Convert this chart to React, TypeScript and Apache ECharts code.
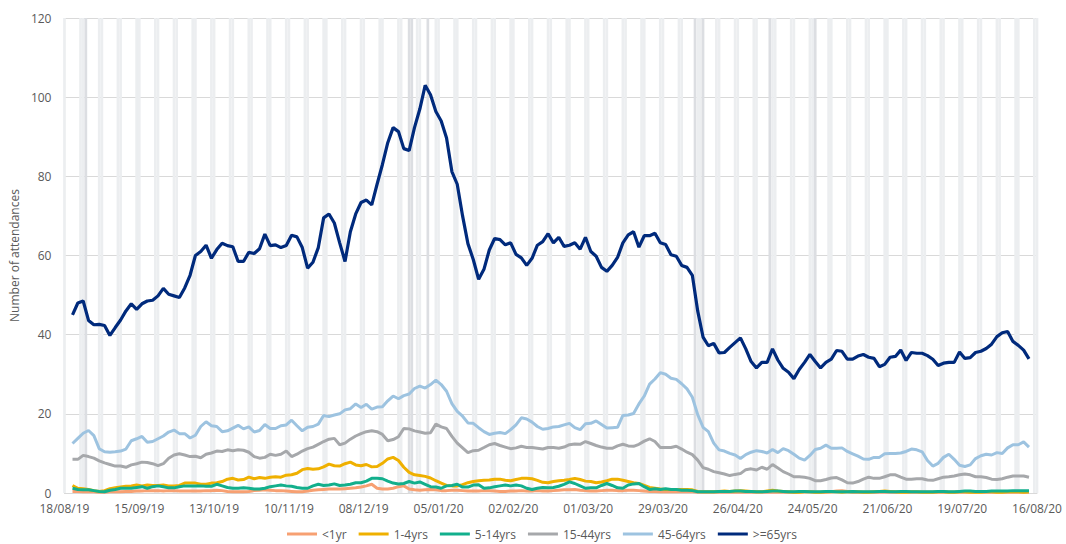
import React, { useEffect, useRef } from "react";
import * as echarts from "echarts";

// ---- Data ----
// Daily categories from 18/08/19 to 16/08/20 (x axis)
const FIRST_DAY = { y: 2019, m: 7, d: 18 };
const DAY_COUNT = 365;
// Values are read every 2 days, starting on the 4th day (21/08/19)
const SAMPLE_START = 3;
const SAMPLE_STEP = 2;

const BANK_HOLIDAYS = ["26/08/19", "25/12/19", "26/12/19", "01/01/20", "10/04/20", "13/04/20", "08/05/20", "25/05/20"];

const SERIES_NAMES = ["<1yr", "1-4yrs", "5-14yrs", "15-44yrs", "45-64yrs", ">=65yrs"];

const under1 = [
  0.4, 0.4, 0.3, 0.3, 0.3, 0.2, 0.2, 0.3, 0.3, 0.3,
  0.4, 0.4, 0.5, 0.5, 0.6, 0.6, 0.6, 0.5, 0.6, 0.6,
  0.5, 0.5, 0.5, 0.5, 0.5, 0.6, 0.6, 0.7, 0.6, 0.4,
  0.3, 0.3, 0.3, 0.4, 0.6, 0.7, 0.8, 0.7, 0.6, 0.6,
  0.5, 0.4, 0.3, 0.3, 0.5, 0.7, 0.8, 0.9, 1, 1,
  1, 1.1, 1.2, 1.3, 1.5, 1.8, 2.2, 1.2, 1, 1,
  1.2, 1.6, 1.8, 1, 0.8, 0.7, 0.8, 0.9, 0.8, 0.6,
  0.6, 0.7, 0.7, 0.6, 0.5, 0.5, 0.5, 0.6, 0.6, 0.5,
  0.4, 0.4, 0.5, 0.5, 0.6, 0.5, 0.5, 0.6, 0.5, 0.5,
  0.6, 0.7, 0.8, 0.8, 0.9, 0.7, 0.6, 0.5, 0.5, 0.6,
  0.7, 0.7, 0.6, 0.6, 0.7, 0.7, 0.6, 0.5, 0.4, 0.4,
  0.3, 0.3, 0.3, 0.3, 0.3, 0.3, 0.3, 0.2, 0.2, 0.2,
  0.2, 0.2, 0.2, 0.2, 0.2, 0.2, 0.2, 0.2, 0.2, 0.2,
  0.2, 0.2, 0.2, 0.2, 0.2, 0.2, 0.2, 0.3, 0.3, 0.2,
  0.2, 0.2, 0.3, 0.5, 0.6, 0.4, 0.2, 0.2, 0.2, 0.2,
  0.2, 0.2, 0.2, 0.2, 0.2, 0.2, 0.2, 0.2, 0.2, 0.2,
  0.2, 0.2, 0.2, 0.2, 0.2, 0.2, 0.2, 0.2, 0.2, 0.2,
  0.2, 0.2, 0.2, 0.2, 0.2, 0.2, 0.2, 0.2, 0.2, 0.2,
];

const age1to4 = [
  1.9, 1.2, 1.1, 0.9, 0.6, 0.4, 0.6, 1.1, 1.3, 1.5,
  1.7, 1.8, 2, 1.8, 2, 1.9, 1.9, 2, 1.8, 1.8,
  1.9, 2.5, 2.5, 2.5, 2.2, 2.2, 2.5, 2.6, 2.9, 3.5,
  3.7, 3.3, 3.4, 4, 3.6, 3.9, 3.7, 4, 4.1, 4,
  4.5, 4.6, 5, 5.9, 6.2, 6, 6.1, 6.6, 7.3, 6.9,
  6.8, 7.4, 7.8, 7.1, 6.9, 7.2, 6.6, 6.7, 7.5, 8.6,
  9, 8.2, 6.5, 5.2, 4.6, 4.4, 4.2, 3.8, 3.1, 2.5,
  1.9, 1.8, 1.8, 2.1, 2.6, 2.9, 3.1, 3.2, 3.3, 3.5,
  3.5, 3.2, 3.1, 3.4, 3.7, 3.7, 3.6, 3.2, 2.7, 2.6,
  2.9, 3.1, 3.2, 3.4, 3.7, 3.4, 3.0, 2.9, 2.6, 2.8,
  3.1, 3.5, 3.5, 3.2, 2.9, 2.6, 2.4, 1.9, 1.4, 1.2,
  1, 0.9, 0.9, 0.9, 0.9, 0.9, 0.8, 0.4, 0.3, 0.3,
  0.3, 0.4, 0.5, 0.4, 0.5, 0.6, 0.5, 0.4, 0.3, 0.3,
  0.5, 0.7, 0.5, 0.4, 0.3, 0.2, 0.2, 0.3, 0.3, 0.2,
  0.2, 0.3, 0.4, 0.3, 0.2, 0.3, 0.4, 0.3, 0.2, 0.2,
  0.3, 0.4, 0.5, 0.4, 0.3, 0.2, 0.2, 0.3, 0.3, 0.2,
  0.2, 0.2, 0.3, 0.3, 0.2, 0.2, 0.3, 0.3, 0.2, 0.2,
  0.2, 0.3, 0.3, 0.2, 0.2, 0.3, 0.3, 0.3, 0.2, 0.3,
];

const age5to14 = [
  1.2, 0.9, 0.8, 0.8, 0.6, 0.4, 0.3, 0.7, 0.9, 1.2,
  1.2, 1.2, 1.4, 1.6, 1.2, 1.6, 1.8, 1.6, 1.3, 1.3,
  1.6, 1.8, 1.8, 1.8, 1.8, 1.7, 1.7, 2.2, 1.8, 1.4,
  1.2, 1.2, 1.3, 1.2, 1, 1, 1.2, 1.6, 1.8, 2,
  1.8, 1.7, 1.4, 1.2, 1.2, 1.8, 2.2, 1.9, 2, 2.3,
  1.9, 2, 2.2, 2.6, 2.6, 3, 3.7, 3.7, 3.6, 3,
  2.5, 2.3, 2.4, 2.9, 2.5, 2.8, 2.2, 1.6, 1.5, 1.2,
  1.8, 1.9, 2.2, 1.5, 1.5, 2, 2.1, 1.2, 1.3, 1.6,
  1.8, 2, 1.8, 2, 1.8, 1.2, 0.9, 1.2, 1.4, 1.3,
  1.4, 1.7, 2.2, 2.8, 2.4, 1.8, 1.2, 1.3, 1.3, 1.9,
  2.4, 1.9, 1.3, 1.2, 2, 2.3, 2.4, 1.6, 0.9, 1.1,
  0.9, 1.1, 0.9, 0.9, 0.7, 0.7, 0.6, 0.3, 0.3, 0.3,
  0.3, 0.4, 0.4, 0.4, 0.5, 0.5, 0.4, 0.4, 0.3, 0.3,
  0.4, 0.5, 0.5, 0.4, 0.3, 0.3, 0.4, 0.4, 0.3, 0.3,
  0.3, 0.4, 0.4, 0.3, 0.3, 0.3, 0.4, 0.3, 0.3, 0.3,
  0.3, 0.4, 0.4, 0.3, 0.3, 0.4, 0.4, 0.3, 0.3, 0.3,
  0.3, 0.3, 0.4, 0.4, 0.3, 0.3, 0.4, 0.5, 0.5, 0.4,
  0.4, 0.4, 0.5, 0.5, 0.5, 0.5, 0.6, 0.6, 0.6, 0.6,
];

const age15to44 = [
  8.5, 8.5, 9.5, 9.2, 8.8, 8.1, 7.6, 7.2, 6.8, 6.8,
  6.5, 7.1, 7.4, 7.8, 7.7, 7.4, 6.9, 7.4, 8.8, 9.6,
  9.9, 9.6, 9.2, 9.3, 8.9, 9.8, 10.1, 10.6, 10.5, 10.9,
  10.7, 10.9, 10.8, 10.3, 9.2, 8.8, 9, 9.8, 9.5, 9.8,
  10.6, 9.2, 9.8, 10.6, 11.2, 11.6, 12.3, 13, 13.6, 13.8,
  12.2, 12.6, 13.6, 14.4, 15, 15.5, 15.7, 15.5, 14.8, 13.2,
  13.5, 14.2, 16.3, 16.2, 15.7, 15.4, 15.1, 15.2, 17.4, 16.7,
  16.3, 14.3, 12.6, 11.4, 10.2, 10.7, 10.8, 11.5, 12.2, 12.5,
  12, 11.6, 11.2, 11.4, 11.8, 11.5, 11.5, 11.3, 11.1, 11.5,
  11.5, 11.3, 11.6, 12.2, 12.4, 12.3, 13, 12.5, 12, 11.6,
  11.3, 11.3, 11.9, 12.3, 11.9, 11.8, 12.3, 13.1, 13.7, 13,
  11.5, 11.5, 11.5, 11.8, 11.1, 10.3, 9.7, 8.3, 6.4, 6,
  5.4, 5.1, 4.8, 4.4, 4.7, 4.9, 5.9, 6.1, 5.8, 6.5,
  6, 7.2, 6.3, 5.4, 4.8, 4.1, 4.1, 4, 3.7, 3.1,
  3.1, 3.4, 3.8, 3.9, 3.3, 2.6, 2.5, 2.9, 3.5, 4,
  3.7, 3.7, 4.1, 4.6, 4.6, 4, 3.5, 3.5, 3.6, 3.6,
  3.3, 3.2, 3.6, 4, 4.1, 4.3, 4.6, 4.8, 4.6, 4.1,
  4.1, 3.9, 3.5, 3.4, 3.6, 4, 4.3, 4.3, 4.3, 4,
];

const age45to64 = [
  12.5, 13.8, 15.1, 15.8, 14.5, 11.2, 10.4, 10.3, 10.4, 10.6,
  11.1, 13.2, 13.7, 14.3, 12.8, 13, 13.7, 14.4, 15.4, 15.9,
  15, 15, 13.9, 14.6, 16.8, 18, 17, 16.8, 15.5, 15.7,
  16.4, 17.1, 16.2, 16.7, 15.4, 15.8, 17.3, 16.3, 16.3, 17,
  17.2, 18.4, 17, 15.7, 16.6, 16.8, 17.4, 19.6, 19.3, 19.7,
  20, 21, 21.3, 22.5, 21.6, 22.4, 21.2, 21.7, 21.8, 23.3,
  24.5, 23.8, 24.6, 25, 26.4, 27, 26.5, 27.4, 28.5, 27.4,
  25.7, 22.6, 20.6, 19.4, 17.7, 17.6, 16.5, 15.5, 14.8, 15.1,
  15.3, 15, 16, 17.2, 19, 18.7, 17.9, 16.8, 16.1, 16.3,
  16.7, 16.8, 17.2, 17.6, 16.5, 16, 17.5, 17.6, 18.2, 17.3,
  16.4, 16.5, 16.6, 19.6, 19.7, 20.1, 22.5, 24.5, 27.5, 28.8,
  30.4, 30, 29, 28.7, 27.6, 26.3, 24.2, 19.8, 16.6, 15.5,
  12.6, 10.9, 10.6, 10, 9.6, 8.7, 9.7, 10.3, 10.7, 10.5,
  10.1, 11, 10.2, 11.2, 10.7, 9.8, 8.8, 8.3, 9.5, 11,
  11.3, 12.1, 11.3, 11.3, 11.4, 10.5, 9.9, 9.3, 8.6, 8.5,
  9, 9, 9.9, 10, 10, 10.1, 10.5, 11.1, 10.9, 10.4,
  8.2, 6.8, 7.5, 9, 9.8, 8.5, 7, 6.7, 7.1, 8.7,
  9.4, 9.8, 9.6, 10.2, 10, 11.4, 12.2, 12.2, 12.9, 11.6,
];

const age65plus = [
  45, 48, 48.5, 43.6, 42.5, 42.6, 42.3, 39.8, 41.8, 43.7,
  46, 47.8, 46.4, 47.8, 48.5, 48.7, 49.8, 51.7, 50.2, 49.8,
  49.4, 51.8, 55, 60, 61, 62.6, 59.3, 61.5, 63.1, 62.5,
  62.2, 58.5, 58.5, 60.8, 60.5, 61.7, 65.4, 62.5, 62.7, 62,
  62.5, 65.1, 64.7, 62, 56.8, 58.3, 62, 69.5, 70.5, 68.2,
  63.2, 58.5, 66, 70.5, 73.4, 74, 72.8, 78, 83, 88.5,
  92.3, 91.3, 87, 86.5, 92.3, 97, 103, 100.6, 96.4, 94,
  89.7, 81.2, 78, 70, 63, 59, 54, 56.5, 61.4, 64.3,
  64, 62.7, 63.2, 60.3, 59.4, 57.5, 59.3, 62.6, 63.5, 65.5,
  63.2, 64.6, 62.3, 62.6, 63.2, 61.6, 64.6, 61, 59.8, 57,
  56, 57.5, 59.5, 63.2, 65.2, 66, 62.1, 65, 65, 65.6,
  63.2, 62.8, 60.2, 59.8, 57.5, 57, 55, 46, 39.4, 37.2,
  37.8, 35.4, 35.5, 36.8, 38, 39.2, 36.4, 33.2, 31.6, 33,
  33, 36.4, 33.6, 31.5, 30.5, 28.9, 31.2, 33, 35, 33.2,
  31.6, 33, 33.8, 36, 35.8, 33.8, 33.8, 34.6, 35, 34.3,
  34, 31.9, 32.5, 34.3, 34.5, 36.1, 33.5, 35.5, 35.3, 35.3,
  34.7, 33.8, 32.2, 32.8, 33, 33, 35.6, 34, 34.2, 35.5,
  35.8, 36.5, 37.6, 39.5, 40.5, 40.8, 38.3, 37.3, 36.1, 33.9,
];

const SERIES_VALUES = [under1, age1to4, age5to14, age15to44, age45to64, age65plus];
const SERIES_COLORS = ["#F7A072", "#EFB000", "#12AF8C", "#A6A8AB", "#9DC3E0", "#002A7C"];

const Y_MAX = 120;
const Y_STEP = 20;

// ---- helpers ----
const pad = (n: number) => (n < 10 ? "0" + n : "" + n);
const fmt = (dt: Date) => `${pad(dt.getDate())}/${pad(dt.getMonth() + 1)}/${pad(dt.getFullYear() % 100)}`;

const dates: Date[] = Array.from({ length: DAY_COUNT }, (_, i) => new Date(FIRST_DAY.y, FIRST_DAY.m, FIRST_DAY.d + i));
const categories = dates.map(fmt);

function placeSamples(values: number[]) {
  const arr: (number | null)[] = new Array(DAY_COUNT).fill(null);
  values.forEach((v, i) => {
    const idx = SAMPLE_START + SAMPLE_STEP * i;
    if (idx < DAY_COUNT) arr[idx] = v;
  });
  return arr;
}

export default function App() {
  const ref = useRef<HTMLDivElement>(null);

  useEffect(() => {
    if (!ref.current) return;
    const chart = echarts.init(ref.current, undefined, { renderer: "svg" });
    const font = "'Open Sans', 'Liberation Sans', sans-serif";
    const textColor = "#595959";

    const bandData = dates.map((dt, i) => {
      if (BANK_HOLIDAYS.includes(categories[i])) return { value: Y_MAX, itemStyle: { color: "#DCDEE2" } };
      const wd = dt.getDay();
      if (wd === 0 || wd === 6) return { value: Y_MAX, itemStyle: { color: "#ECEEF0" } };
      return null;
    });

    const lineSeries = SERIES_NAMES.map((name, k) => ({
      name,
      type: "line",
      data: placeSamples(SERIES_VALUES[k]),
      connectNulls: true,
      showSymbol: false,
      symbol: "none",
      lineStyle: { width: k === 5 ? 3.2 : 3, color: SERIES_COLORS[k] },
      itemStyle: { color: SERIES_COLORS[k] },
      z: 3 + k,
    }));

    chart.setOption({
      animation: false,
      textStyle: { fontFamily: font },
      grid: { left: 63, right: 29, top: 18, bottom: 51, containLabel: false },
      legend: {
        data: SERIES_NAMES.map((name, k) => ({
          name,
          itemStyle: { color: SERIES_COLORS[k] },
        })),
        left: 287,
        top: 527,
        padding: 0,
        icon: "rect",
        itemWidth: 30,
        itemHeight: 3,
        itemGap: 12,
        textStyle: { color: textColor, fontSize: 12, lineHeight: 14, fontFamily: font },
      },
      xAxis: {
        type: "category",
        data: categories,
        boundaryGap: false,
        axisLine: { show: true, lineStyle: { color: "#D9D9D9", width: 1 } },
        axisTick: { show: false },
        axisLabel: { interval: 27, color: textColor, fontSize: 12, margin: 9, fontFamily: font },
        splitLine: { show: false },
      },
      yAxis: {
        type: "value",
        min: 0,
        max: Y_MAX,
        interval: Y_STEP,
        name: "Number of attendances",
        nameLocation: "middle",
        nameGap: 39,
        nameTextStyle: { color: textColor, fontSize: 12, fontFamily: font },
        axisLine: { show: false },
        axisTick: { show: false },
        axisLabel: { color: textColor, fontSize: 12, margin: 13, fontFamily: font },
        splitLine: { lineStyle: { color: "#D9D9D9", width: 1 } },
      },
      series: [
        {
          name: "bands",
          type: "bar",
          data: bandData,
          barCategoryGap: "0%",
          silent: true,
          z: 1,
        },
        ...lineSeries,
      ],
    });

    return () => chart.dispose();
  }, []);

  return <div ref={ref} style={{ position: "absolute", left: 0, top: 0, width: 1066, height: 544 }} />;
}
